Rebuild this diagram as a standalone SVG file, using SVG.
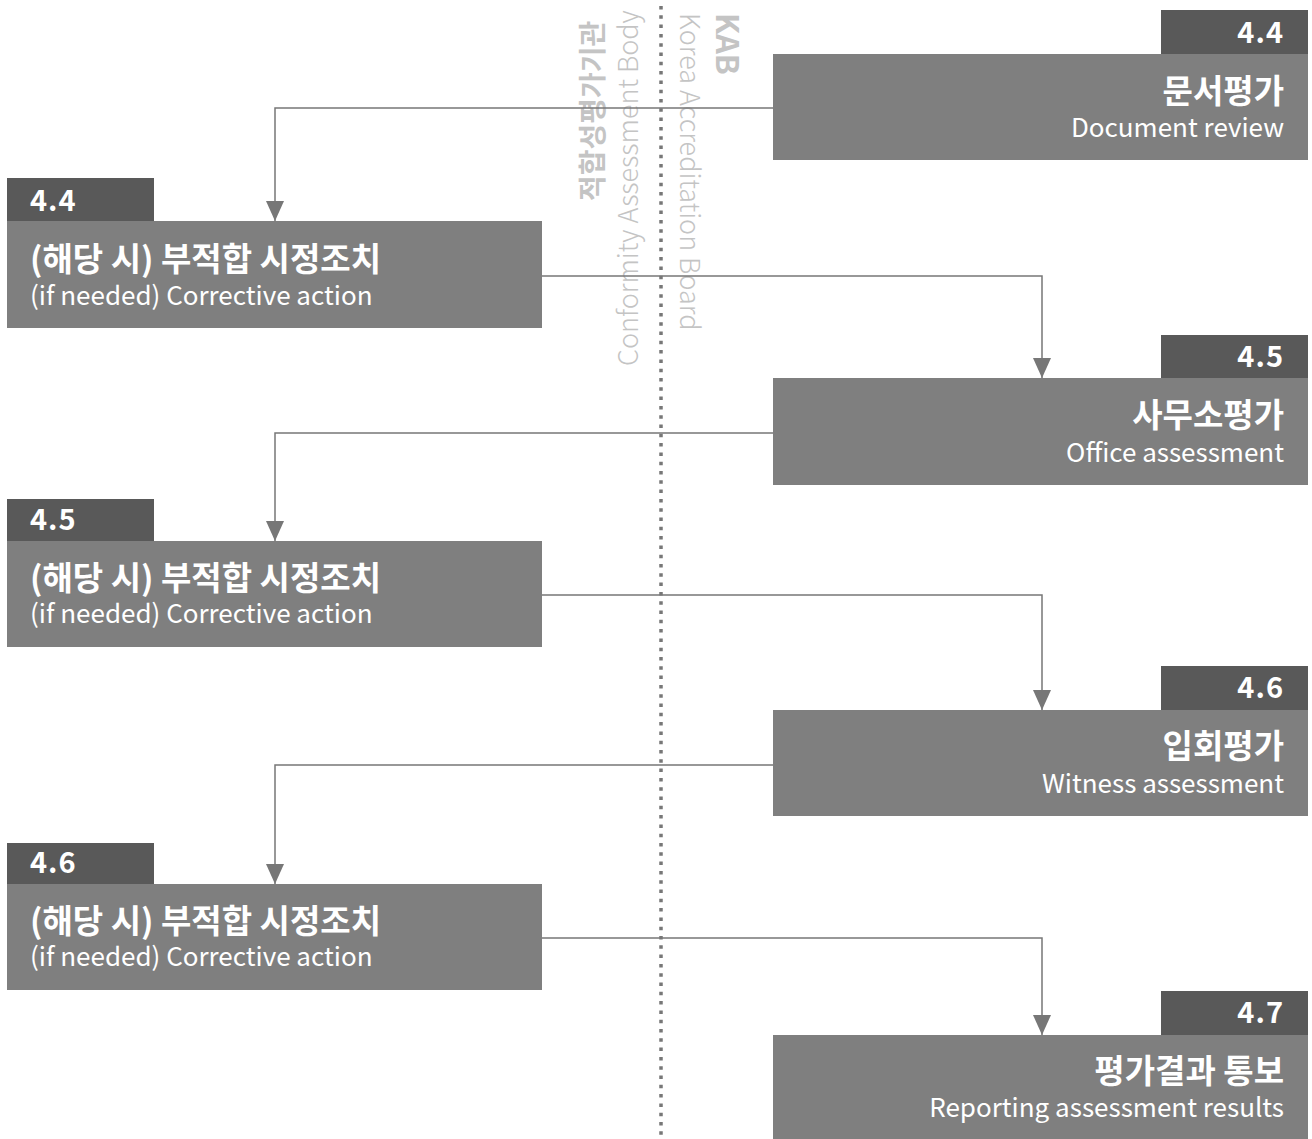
<svg xmlns="http://www.w3.org/2000/svg" width="1312" height="1139" viewBox="0 0 1312 1139">
<defs>
<style>
.main{fill:#7f7f7f}
.tab{fill:#595959}
.num{font-family:"Noto Sans CJK KR","Noto Sans",sans-serif;font-weight:700;font-size:29px;fill:#fff;letter-spacing:1px}
.ko{font-family:"Noto Sans CJK KR","Noto Sans",sans-serif;font-weight:700;font-size:33px;fill:#fff}
.en{font-family:"Noto Sans CJK KR","Noto Sans",sans-serif;font-weight:400;font-size:26px;fill:#fff}
.r{text-anchor:end}
.side{font-family:"Noto Sans CJK KR","Noto Sans",sans-serif;fill:#c4c4c4;font-size:27px;font-weight:300}
.sideb{font-weight:700;font-size:28px}
.kab{font-weight:700;font-size:31px}
.line{fill:none;stroke:#777;stroke-width:1.5}
</style>
<marker id="arr" viewBox="0 0 20 18" refX="20" refY="9" markerWidth="20" markerHeight="18" markerUnits="userSpaceOnUse" orient="auto">
<path d="M0,0 L20,9 L0,18 Z" fill="#777"/>
</marker>
</defs>
<rect width="1312" height="1139" fill="#fff"/>
<g id="divider">
<line x1="661" y1="6" x2="661" y2="1139" stroke="#777" stroke-width="3.5" stroke-dasharray="3.5 5.8"/>
<text class="side sideb" transform="translate(603,201) rotate(-90)">적합성평가기관</text>
<text class="side" transform="translate(638,366) rotate(-90)">Conformity Assessment Body</text>
<text class="side kab" transform="translate(716,13) rotate(90)">KAB</text>
<text class="side" transform="translate(680,13) rotate(90)">Korea Accreditation Board</text>
</g>
<g id="connectors">
<path class="line" d="M773,108 H275 V221" marker-end="url(#arr)"/>
<path class="line" d="M542,276 H1042 V378" marker-end="url(#arr)"/>
<path class="line" d="M773,433 H275 V541" marker-end="url(#arr)"/>
<path class="line" d="M542,595 H1042 V710" marker-end="url(#arr)"/>
<path class="line" d="M773,765 H275 V884" marker-end="url(#arr)"/>
<path class="line" d="M542,938 H1042 V1035" marker-end="url(#arr)"/>
</g>
<g id="n1">
<rect class="tab" x="1161" y="10" width="147" height="44"/>
<rect class="main" x="773" y="54" width="535" height="106"/>
<text class="num r" x="1284" y="43">4.4</text>
<text class="ko r" x="1284" y="103">문서평가</text>
<text class="en r" x="1284" y="137">Document review</text>
</g>
<g id="n2">
<rect class="tab" x="7" y="178" width="147" height="43"/>
<rect class="main" x="7" y="221" width="535" height="107"/>
<text class="num" x="30" y="211">4.4</text>
<text class="ko" x="30" y="271">(해당 시) 부적합 시정조치</text>
<text class="en" x="30" y="305">(if needed) Corrective action</text>
</g>
<g id="n3">
<rect class="tab" x="1161" y="335" width="147" height="43"/>
<rect class="main" x="773" y="378" width="535" height="107"/>
<text class="num r" x="1284" y="367">4.5</text>
<text class="ko r" x="1284" y="427">사무소평가</text>
<text class="en r" x="1284" y="462">Office assessment</text>
</g>
<g id="n4">
<rect class="tab" x="7" y="499" width="147" height="42"/>
<rect class="main" x="7" y="541" width="535" height="106"/>
<text class="num" x="30" y="530">4.5</text>
<text class="ko" x="30" y="590">(해당 시) 부적합 시정조치</text>
<text class="en" x="30" y="623">(if needed) Corrective action</text>
</g>
<g id="n5">
<rect class="tab" x="1161" y="666" width="147" height="44"/>
<rect class="main" x="773" y="710" width="535" height="106"/>
<text class="num r" x="1284" y="698">4.6</text>
<text class="ko r" x="1284" y="758">입회평가</text>
<text class="en r" x="1284" y="793">Witness assessment</text>
</g>
<g id="n6">
<rect class="tab" x="7" y="843" width="147" height="41"/>
<rect class="main" x="7" y="884" width="535" height="106"/>
<text class="num" x="30" y="873">4.6</text>
<text class="ko" x="30" y="933">(해당 시) 부적합 시정조치</text>
<text class="en" x="30" y="966">(if needed) Corrective action</text>
</g>
<g id="n7">
<rect class="tab" x="1161" y="991" width="147" height="44"/>
<rect class="main" x="773" y="1035" width="535" height="104"/>
<text class="num r" x="1284" y="1023">4.7</text>
<text class="ko r" x="1284" y="1083">평가결과 통보</text>
<text class="en r" x="1284" y="1117">Reporting assessment results</text>
</g>
</svg>
